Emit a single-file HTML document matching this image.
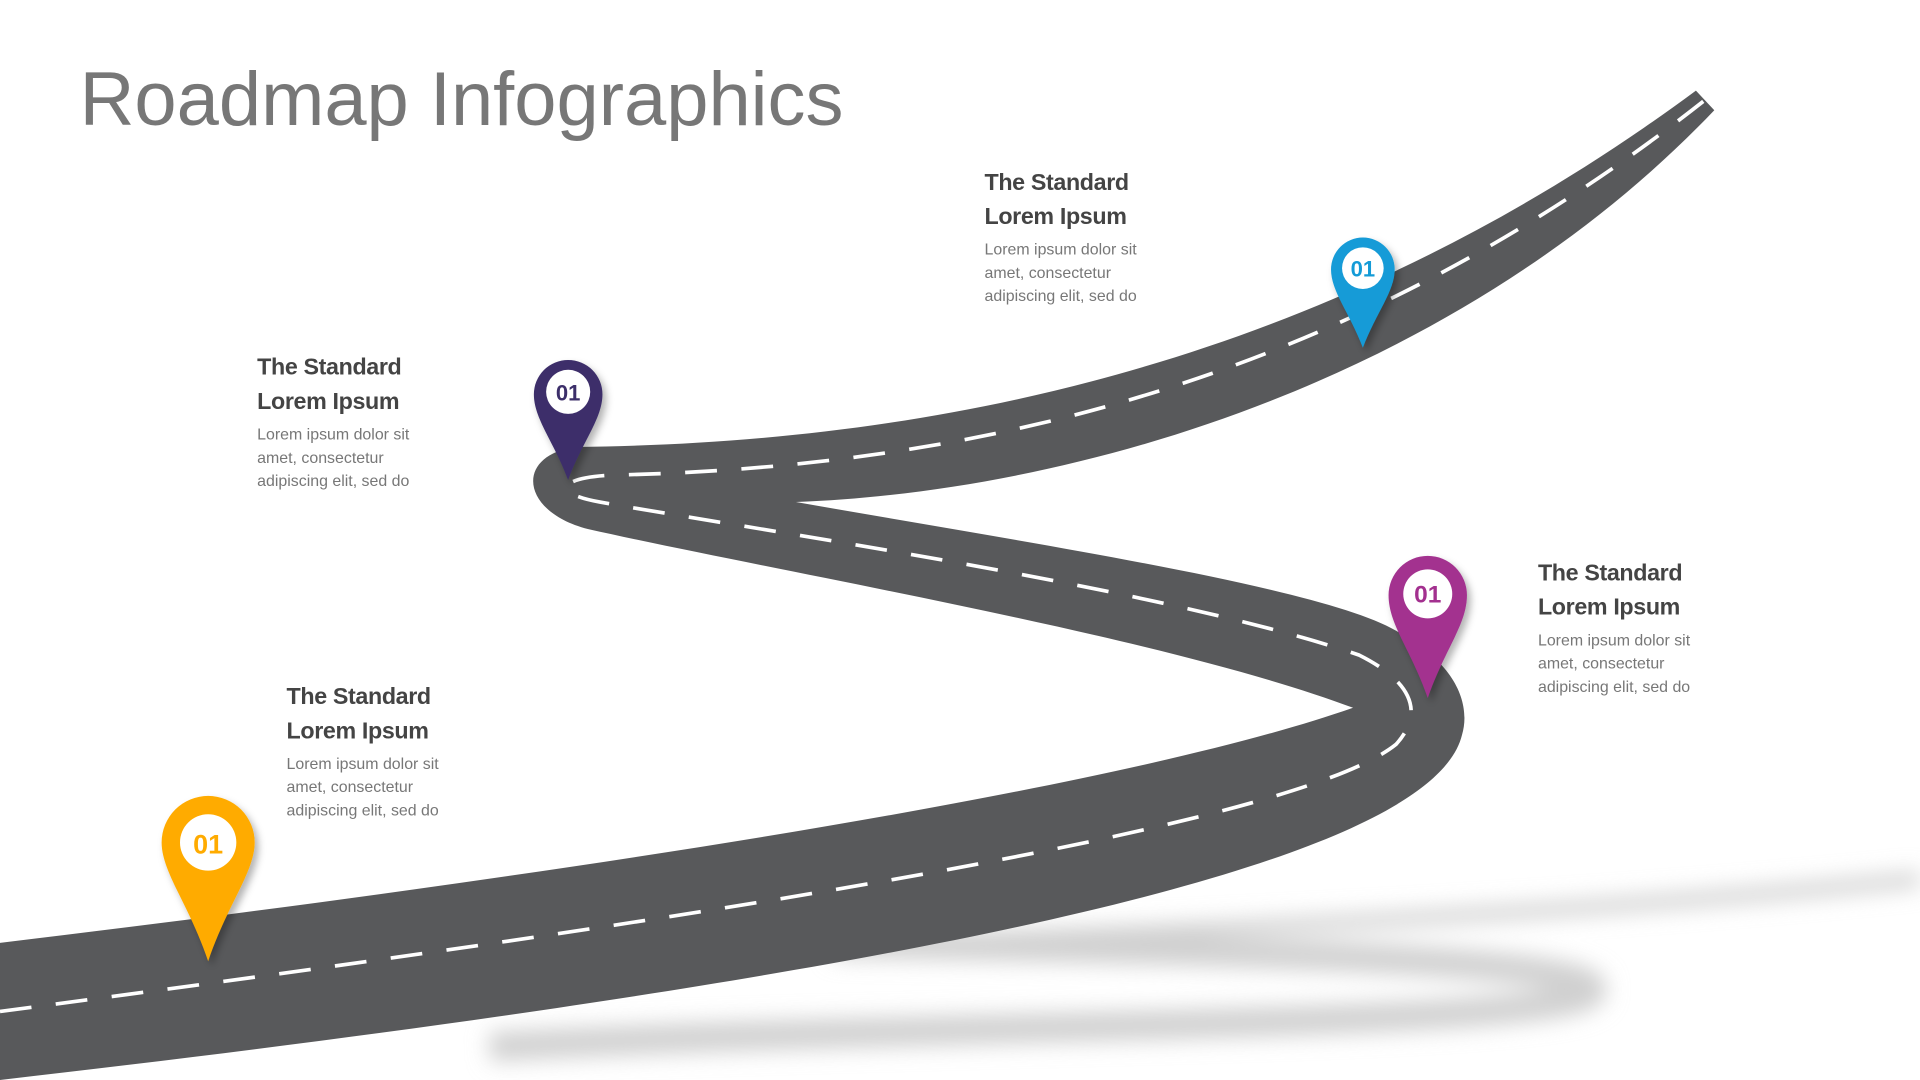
<!DOCTYPE html>
<html><head><meta charset="utf-8"><style>
html,body{margin:0;padding:0;background:#fff;overflow:hidden}
#w{width:1568px;height:882px;position:relative;transform:scale(1.22449);transform-origin:0 0;font-family:"Liberation Sans",sans-serif}
.t{position:absolute;font-size:62px;color:#777;left:65px;top:46px;letter-spacing:0px}
.b{position:absolute}
.b h{display:block;font-weight:bold;font-size:19px;line-height:28px;color:#444;letter-spacing:-0.3px}
.b p{margin:2px 0 0;font-size:13px;line-height:19px;color:#777}
</style></head><body><div id="w">
<svg width="1568" height="882" style="position:absolute;left:0;top:0">
<defs>
<filter id="bl" x="-20%" y="-50%" width="140%" height="200%"><feGaussianBlur stdDeviation="9"/></filter>
<filter id="ds" x="-50%" y="-50%" width="200%" height="200%"><feDropShadow dx="3" dy="4" stdDeviation="3" flood-color="#000" flood-opacity="0.3"/></filter>
</defs>
<g filter="url(#bl)" fill="none" stroke="#d0d0d0">
<path d="M400,855 C750,835 1300,840 1300,808 C1300,780 900,775 680,770" stroke-width="24"/>
<path d="M700,770 C1000,760 1300,745 1568,718" stroke-width="12"/>
</g>
<path fill="#58595b" d="M0,770 C400,722 900,650 1105,578 C950,520 650,470 480,432 C425,418 420,372 470,365 C760,362 1080,300 1385,74 L1400,90 C1200,300 900,400 650,410 C850,445 1080,480 1140,515 C1195,545 1200,580 1194,600 C1170,700 800,790 0,882 Z"/>
<path fill="none" stroke="#fff" stroke-width="3" stroke-dasharray="26,20" d="M0,826 C500,760 1050,680 1140,608 C1170,575 1140,550 1110,535 C950,480 600,430 490,410 C450,403 455,390 500,388 C780,382 1090,320 1392,82"/>
<g filter="url(#ds)">
<path fill="#ffab00" d="M132,688 A38,38 0 1 1 208,688 C208,712 185,740 170,785 C155,740 132,712 132,688 Z"/>
<path fill="#3c2f6a" d="M436,322 A28,28 0 1 1 492,322 C492,342 476,360 464,392 C452,360 436,342 436,322 Z"/>
<path fill="#149bd7" d="M1087,220 A26,26 0 1 1 1139,220 C1139,238 1124,255 1113,284 C1102,255 1087,238 1087,220 Z"/>
<path fill="#a3308f" d="M1134,486 A32,32 0 1 1 1198,486 C1198,510 1180,530 1166,570 C1152,530 1134,510 1134,486 Z"/>
</g>
<g font-family="Liberation Sans,sans-serif" font-weight="bold" text-anchor="middle">
<circle cx="170" cy="688" r="23" fill="#fff"/><text x="170" y="697" font-size="22" fill="#ffab00">01</text>
<circle cx="464" cy="320" r="18" fill="#fff"/><text x="464" y="327" font-size="18" fill="#3c2f6a">01</text>
<circle cx="1113" cy="219" r="17" fill="#fff"/><text x="1113" y="226" font-size="18" fill="#149bd7">01</text>
<circle cx="1166" cy="485" r="20" fill="#fff"/><text x="1166" y="492" font-size="20" fill="#a3308f">01</text>
</g>
</svg>
<div class="t">Roadmap Infographics</div>
<div class="b" style="left:804px;top:136px"><h>The Standard<br>Lorem Ipsum</h><p>Lorem ipsum dolor sit<br>amet, consectetur<br>adipiscing elit, sed do</p></div>
<div class="b" style="left:210px;top:287px"><h>The Standard<br>Lorem Ipsum</h><p>Lorem ipsum dolor sit<br>amet, consectetur<br>adipiscing elit, sed do</p></div>
<div class="b" style="left:1256px;top:455px"><h>The Standard<br>Lorem Ipsum</h><p>Lorem ipsum dolor sit<br>amet, consectetur<br>adipiscing elit, sed do</p></div>
<div class="b" style="left:234px;top:556px"><h>The Standard<br>Lorem Ipsum</h><p>Lorem ipsum dolor sit<br>amet, consectetur<br>adipiscing elit, sed do</p></div>
</div></body></html>
